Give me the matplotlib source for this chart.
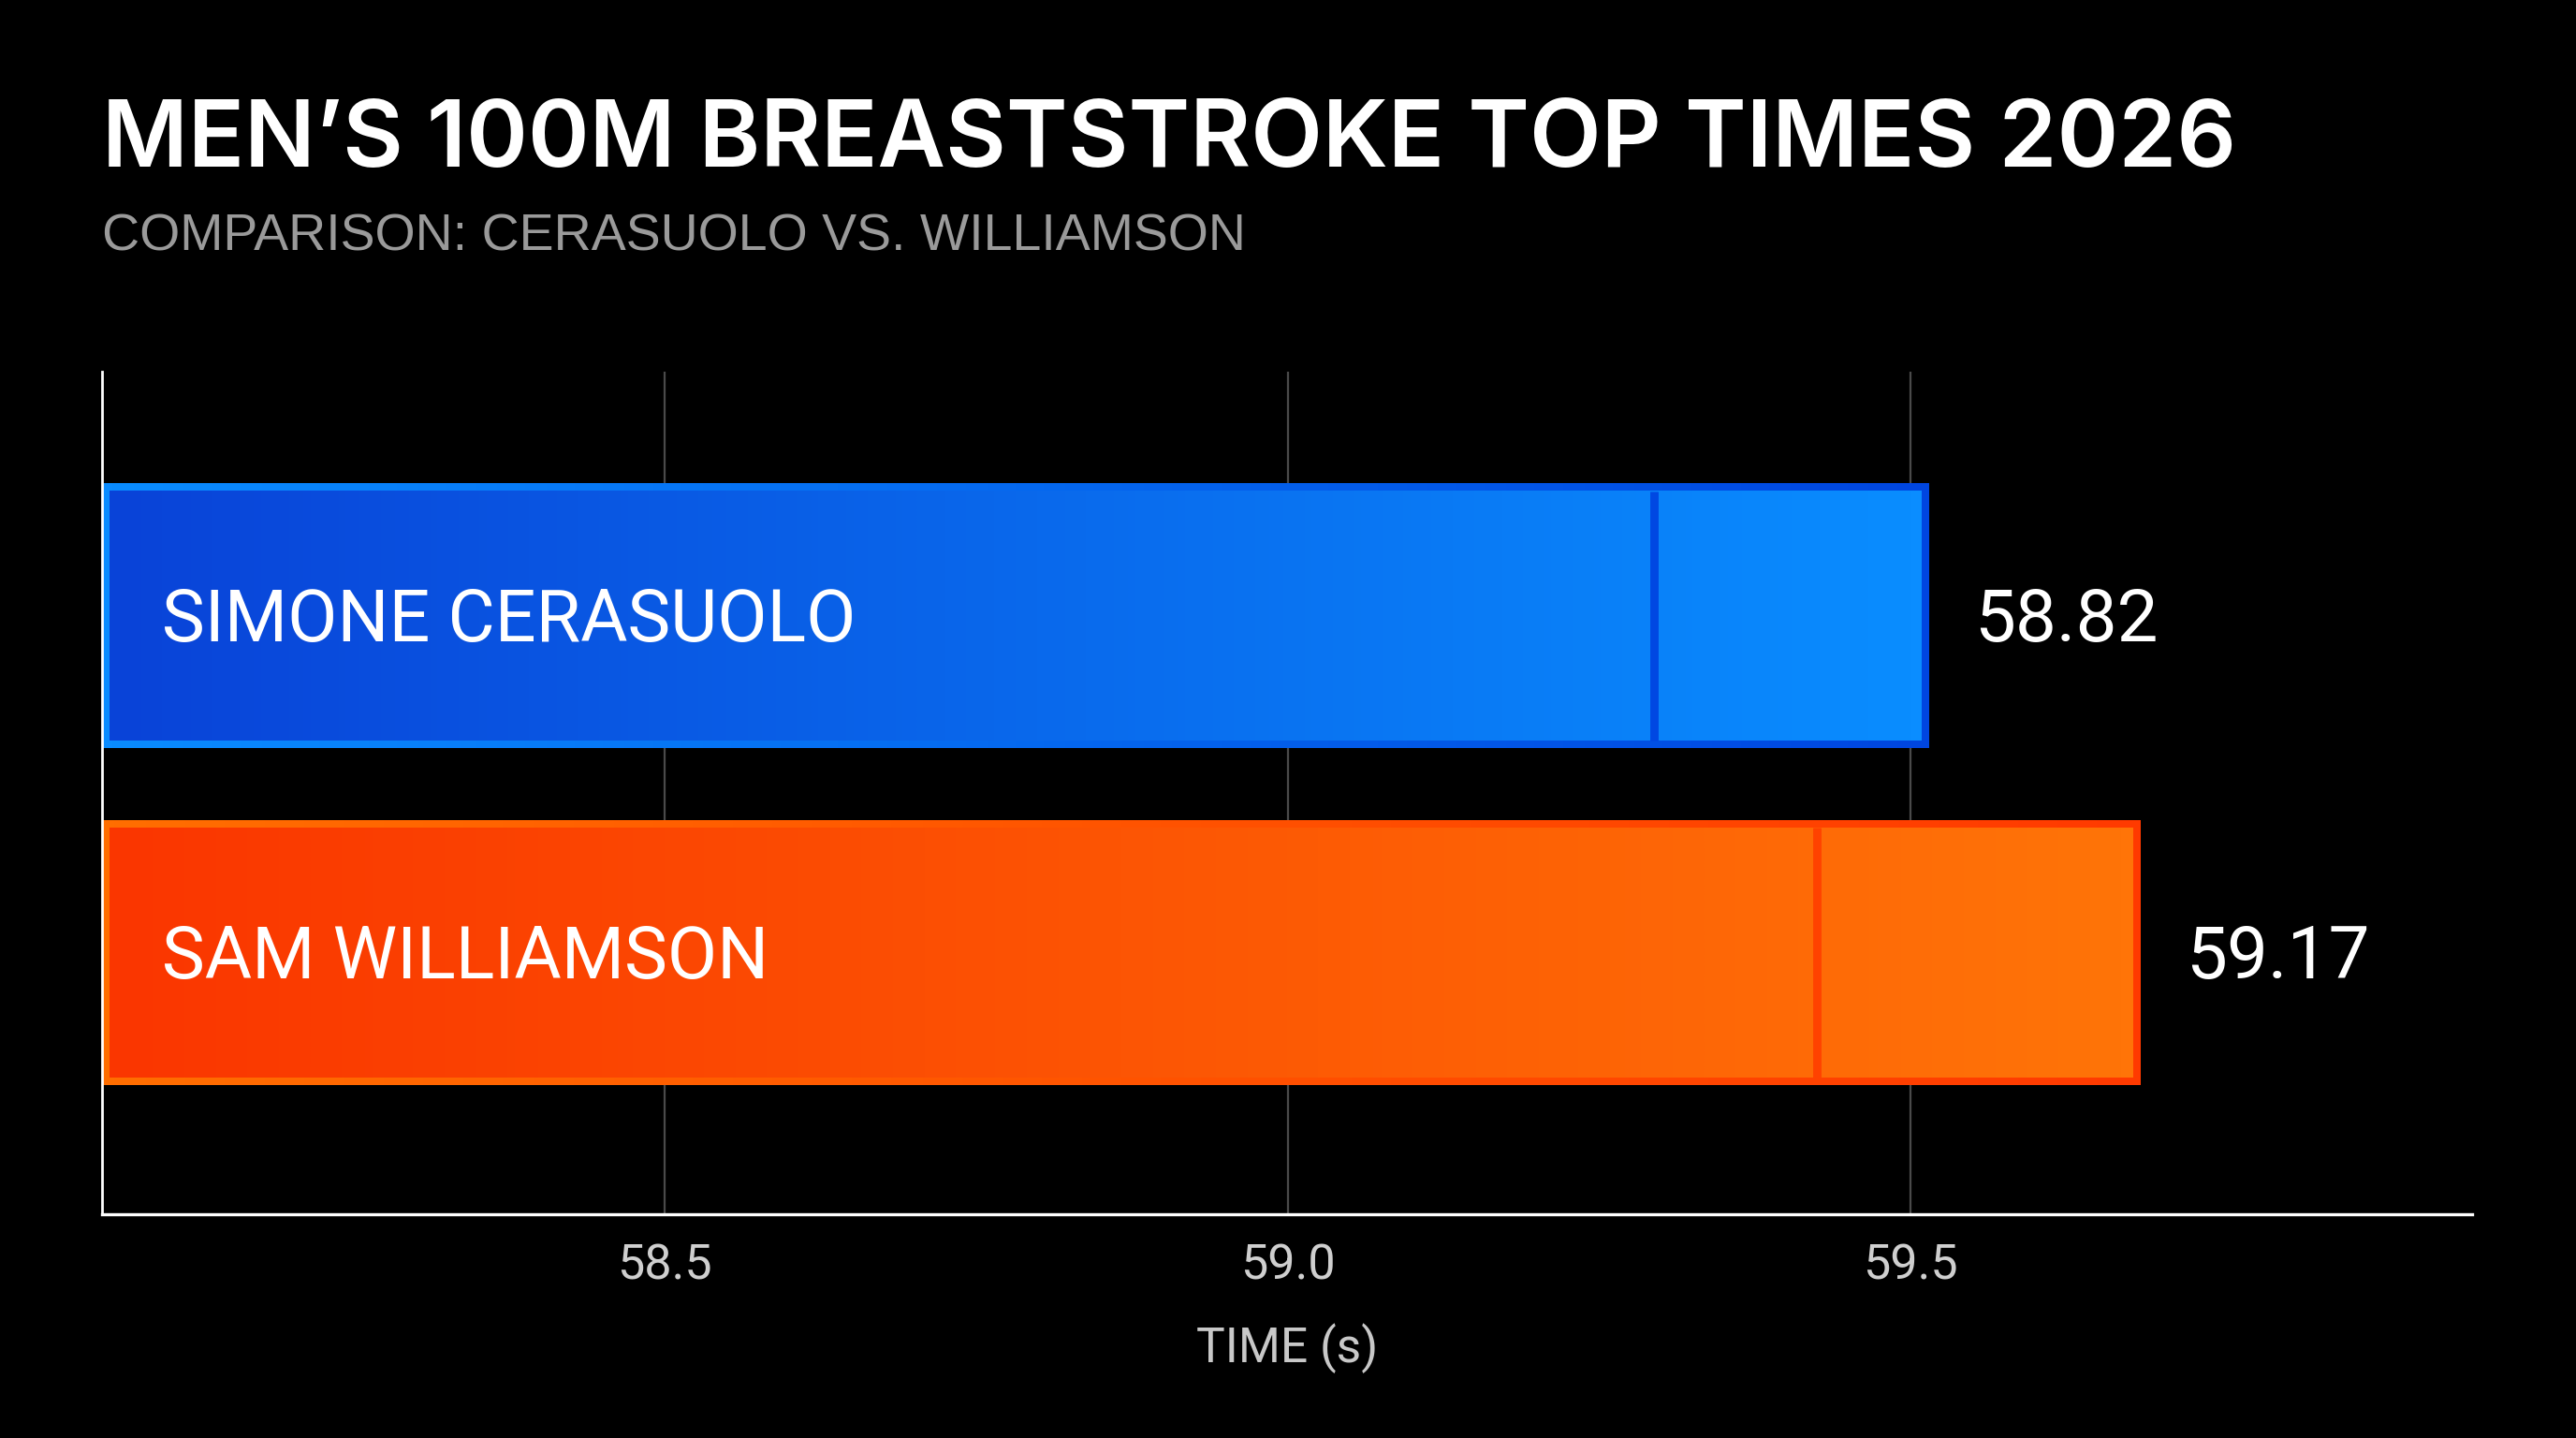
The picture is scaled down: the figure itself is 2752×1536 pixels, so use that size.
import matplotlib
matplotlib.use("Agg")
import matplotlib.pyplot as plt
from matplotlib.colors import LinearSegmentedColormap
import numpy as np

# data
swimmers = ["SIMONE CERASUOLO", "SAM WILLIAMSON"]
times = [58.82, 59.17]          # printed times
bar_ends = [59.515, 59.685]      # where each bar stops on the axis
splits = [59.294, 59.425]        # inner divider position
ticks = [58.5, 59.0, 59.5]
tick_labels = ["58.5", "59.0", "59.5"]

title = "MEN\u2019S 100M BREASTSTROKE TOP TIMES 2026"
subtitle = "COMPARISON: CERASUOLO VS. WILLIAMSON"

# fill gradient (left -> right) and border gradient (left -> right)
fills = [("#0943d8", "#0a8dff"), ("#fa3600", "#ff7408")]
borders = [("#0a8cff", "#0046e0"), ("#ff6e00", "#ff3a00")]
dividers = ["#0048e2", "#ff4200"]

BG = "#000000"
plt.rcParams["font.family"] = ["Roboto", "DejaVu Sans"]

fig = plt.figure(figsize=(13.76, 7.68), dpi=200, facecolor=BG)
ax = fig.add_axes([0.0396, 0.1556, 0.92, 0.586], facecolor=BG)

x0, x1 = 58.048, 59.951
ylo, yhi = 1.777, -0.726
bar_h = 0.785
bx, by = 0.006, 0.022   # border thickness in data units

grad = np.linspace(0, 1, 256).reshape(1, -1)

for i, name in enumerate(swimmers):
    top = i - bar_h / 2
    bot = i + bar_h / 2
    cm_border = LinearSegmentedColormap.from_list("b%d" % i, borders[i])
    cm_fill = LinearSegmentedColormap.from_list("f%d" % i, fills[i])
    ax.imshow(grad, cmap=cm_border, extent=(x0, bar_ends[i], bot, top),
              aspect="auto", interpolation="bicubic", zorder=2)
    ax.imshow(grad, cmap=cm_fill,
              extent=(x0 + bx, bar_ends[i] - bx, bot - by, top + by),
              aspect="auto", interpolation="bicubic", zorder=3)
    ax.plot([splits[i], splits[i]], [top + by, bot - by],
            color=dividers[i], lw=3.2, solid_capstyle="butt", zorder=4)

    ax.annotate(name, xy=(x0, i), xytext=(23.0, -9.7),
                textcoords="offset points", va="baseline", ha="left",
                color="white", fontsize=27.8, zorder=5)
    ax.annotate("%.2f" % times[i], xy=(bar_ends[i], i), xytext=(17.4, -9.7),
                textcoords="offset points", va="baseline", ha="left",
                color="white", fontsize=28.2, zorder=5)

ax.set_xlim(x0, x1)
ax.set_ylim(ylo, yhi)
ax.set_yticks([])
ax.set_xticks(ticks)
ax.set_xticklabels(tick_labels)
ax.tick_params(axis="x", length=0, pad=11, labelsize=18.8, labelcolor="#cfcfcf")
ax.grid(axis="x", color="#4a4a4a", lw=0.8, zorder=0)
ax.set_axisbelow(True)
ax.set_xlabel("TIME (s)", fontsize=18.6, color="#c8c8c8", labelpad=13)

for side in ["top", "right"]:
    ax.spines[side].set_visible(False)
ax.spines["left"].set_color("white")
ax.spines["left"].set_linewidth(1.0)
ax.spines["bottom"].set_color("white")
ax.spines["bottom"].set_linewidth(1.2)

fig.text(0.0396, 0.884, title, color="white", fontsize=35.9,
         fontweight="semibold", family=["Inter", "DejaVu Sans"], va="baseline")
fig.text(0.0396, 0.826, subtitle, color="#9a9a9a", fontsize=20,
         family=["Liberation Sans", "DejaVu Sans"], va="baseline")

fig.savefig("out.png", dpi=200, facecolor=BG)
